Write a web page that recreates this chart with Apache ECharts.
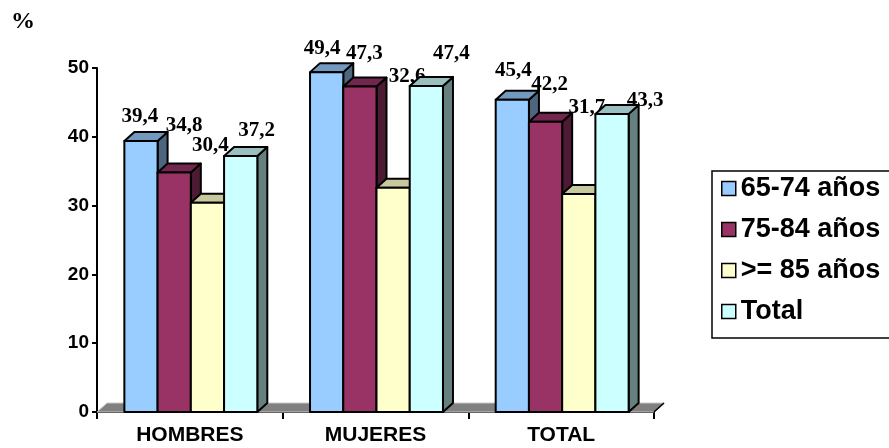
<!DOCTYPE html>
<html>
<head>
<meta charset="utf-8">
<script src="https://cdn.jsdelivr.net/npm/echarts@6/dist/echarts.min.js"></script>
<style>
  html, body { margin: 0; padding: 0; background: #fff; }
  #chart { width: 889px; height: 448px; }
</style>
</head>
<body>
<div id="chart"></div>
<script>
// Population groups on the x axis
const categories = ['HOMBRES', 'MUJERES', 'TOTAL'];
// Age brackets (series names)
const seriesNames = ['65-74 años', '75-84 años', '>= 85 años', 'Total'];
// Percentages per age bracket, one value per group
const age65to74 = [39.4, 49.4, 45.4];
const age75to84 = [34.8, 47.3, 42.2];
const age85plus = [30.4, 32.6, 31.7];
const ageTotal = [37.2, 47.4, 43.3];
// Value axis ticks
const yTicks = [0, 10, 20, 30, 40, 50];

const seriesValues = [age65to74, age75to84, age85plus, ageTotal];

// Face colours: front, top (shaded), side (darker)
const palette = [
  { front: '#99CCFF', top: '#7399BF', side: '#4D6680' },
  { front: '#993366', top: '#73264D', side: '#4D1A33' },
  { front: '#FFFFCC', top: '#C8C89E', side: '#8A8A6E' },
  { front: '#CCFFFF', top: '#99BFBF', side: '#668080' }
];

// Extruded-box look
const DEPTH_X = 10;
const DEPTH_Y = 9;
const BAR_RATIO = 0.179;
const OUTLINE = 2;

// Small nudges (px) for the value labels, relative to the box top
const labelNudge = [
  [[-6, -1], [-9.5, -1], [-4, -6]],
  [[5, -24], [-0.5, -10], [-1, -14]],
  [[-2, -34], [9, -88], [3, -63]],
  [[11, -2], [20, -9], [28, 9]]
];

const fmt = v => v.toFixed(1).replace('.', ',');

function boxRenderer(si) {
  return function (params, api) {
    const cat = api.value(0);
    const v = api.value(1);
    const base = api.coord([cat, 0]);
    const top = api.coord([cat, v]);
    const band = api.size([1, 0])[0];
    const bw = band * BAR_RATIO;
    const x0 = base[0] - 2 * bw + si * bw + 1;
    const x1 = x0 + bw;
    const yb = base[1];
    const yt = top[1];
    const c = palette[si];
    const line = { stroke: '#000', lineWidth: OUTLINE, lineJoin: 'round' };
    const nudge = labelNudge[si][params.dataIndex];
    return {
      type: 'group',
      children: [
        {
          type: 'polygon',
          shape: { points: [[x1, yt], [x1 + DEPTH_X, yt - DEPTH_Y], [x1 + DEPTH_X, yb - DEPTH_Y], [x1, yb]] },
          style: Object.assign({ fill: c.side }, line)
        },
        {
          type: 'polygon',
          shape: { points: [[x0, yt], [x1, yt], [x1 + DEPTH_X, yt - DEPTH_Y], [x0 + DEPTH_X, yt - DEPTH_Y]] },
          style: Object.assign({ fill: c.top }, line)
        },
        {
          type: 'polygon',
          shape: { points: [[x0, yt], [x1, yt], [x1, yb], [x0, yb]] },
          style: Object.assign({ fill: c.front }, line)
        },
        {
          type: 'text',
          z2: 100,
          style: {
            text: fmt(v),
            x: (x0 + x1) / 2 + DEPTH_X / 2 + nudge[0],
            y: yt - DEPTH_Y - 14 + nudge[1],
            align: 'center',
            verticalAlign: 'middle',
            fill: '#000',
            font: 'bold 21px "Liberation Serif", "Times New Roman", serif'
          }
        }
      ]
    };
  };
}

// Grey floor under the boxes, spanning the category axis
function floorRenderer(params, api) {
  const band = api.size([1, 0])[0];
  const first = api.coord([0, 0]);
  const last = api.coord([categories.length - 1, 0]);
  const xa = first[0] - band / 2;
  const xb = last[0] + band / 2;
  const y = first[1];
  return {
    type: 'group',
    children: [
      {
        type: 'polygon',
        shape: { points: [[xa, y], [xb, y], [xb + DEPTH_X, y - DEPTH_Y], [xa + DEPTH_X, y - DEPTH_Y]] },
        style: { fill: '#808080', stroke: '#c8c8c8', lineWidth: 1 }
      },
      {
        type: 'line',
        shape: { x1: xb, y1: y, x2: xb + DEPTH_X, y2: y - DEPTH_Y },
        style: { stroke: '#000', lineWidth: 1.6 }
      }
    ]
  };
}

const series = [{
  type: 'custom',
  name: '__floor',
  renderItem: floorRenderer,
  data: [[0, 0]],
  encode: { x: 0, y: 1 },
  silent: true,
  z: 1
}];

seriesValues.forEach((vals, si) => {
  series.push({
    type: 'custom',
    name: seriesNames[si],
    renderItem: boxRenderer(si),
    data: vals.map((v, i) => [i, v]),
    encode: { x: 0, y: 1 },
    itemStyle: { color: palette[si].front },
    z: 2 + si
  });
});

const chart = echarts.init(document.getElementById('chart'), null, { renderer: 'canvas' });
chart.setOption({
  animation: false,
  backgroundColor: '#ffffff',
  grid: { left: 97, right: 235, top: 68, bottom: 36 },
  graphic: [{
    type: 'text',
    left: 11,
    top: 10,
    style: {
      text: '%',
      fill: '#000',
      font: 'bold 24px "Liberation Serif", "Times New Roman", serif'
    }
  }],
  legend: {
    orient: 'vertical',
    left: 712,
    top: 171,
    data: seriesNames,
    selectedMode: false,
    icon: 'rect',
    itemWidth: 14,
    itemHeight: 14,
    itemGap: 14,
    padding: [4, 30, 13, 9],
    borderColor: '#000',
    borderWidth: 1.5,
    itemStyle: { borderColor: '#000', borderWidth: 1.5 },
    textStyle: {
      color: '#000',
      fontFamily: '"Liberation Sans", Arial, sans-serif',
      fontWeight: 'bold',
      fontSize: 27,
      lineHeight: 26
    }
  },
  xAxis: {
    type: 'category',
    data: categories,
    boundaryGap: true,
    axisLine: { show: true, lineStyle: { color: '#000', width: 2 } },
    axisTick: { show: true, length: 7, inside: false, lineStyle: { color: '#000', width: 2 } },
    axisLabel: {
      color: '#000',
      fontFamily: '"Liberation Sans", Arial, sans-serif',
      fontWeight: 'bold',
      fontSize: 21,
      margin: 13
    },
    splitLine: { show: false }
  },
  yAxis: {
    type: 'value',
    min: yTicks[0],
    max: yTicks[yTicks.length - 1],
    interval: yTicks[1] - yTicks[0],
    axisLine: { show: true, lineStyle: { color: '#000', width: 2 } },
    axisTick: { show: true, length: 5, inside: false, lineStyle: { color: '#000', width: 2 } },
    axisLabel: {
      color: '#000',
      fontFamily: '"Liberation Sans", Arial, sans-serif',
      fontWeight: 'bold',
      fontSize: 19,
      margin: 8
    },
    splitLine: { show: false }
  },
  series: series
});
</script>
</body>
</html>
